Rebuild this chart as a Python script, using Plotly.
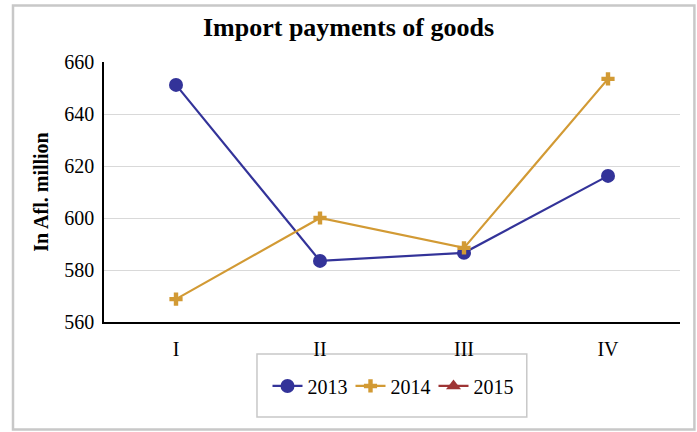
import plotly.graph_objects as go

quarters = ["I", "II", "III", "IV"]
y2013 = [651.2, 583.5, 586.6, 616.2]
y2014 = [568.8, 600.0, 588.5, 653.5]
y2015 = [None, None, None, None]

FONT = "Liberation Serif"

fig = go.Figure()
fig.add_trace(go.Scatter(
    x=quarters, y=y2013, name="2013", mode="lines+markers",
    line=dict(color="#333399", width=2.2),
    marker=dict(symbol="circle", size=14, color="#333399"),
))
fig.add_trace(go.Scatter(
    x=quarters, y=y2014, name="2014", mode="lines+markers",
    line=dict(color="#D29A34", width=2.2),
    marker=dict(symbol="cross", size=11, color="#D29A34"),
))
fig.add_trace(go.Scatter(
    x=quarters, y=y2015, name="2015", mode="lines+markers",
    line=dict(color="#9E3434", width=2.2),
    marker=dict(symbol="triangle-up", size=13, color="#9E3434"),
))

fig.update_layout(
    width=697, height=432,
    margin=dict(l=104, r=17, t=62, b=110),
    paper_bgcolor="white", plot_bgcolor="white",
    font=dict(family=FONT, size=20, color="black"),
    title=dict(text="<b>Import payments of goods</b>", x=0.5, xanchor="center",
               y=0.937, yanchor="middle", font=dict(family=FONT, size=26)),
    showlegend=True,
    legend=dict(orientation="h", x=0.5, xanchor="center", y=-0.246, yanchor="middle",
                bgcolor="rgba(0,0,0,0)", borderwidth=0, font=dict(size=20),
                itemwidth=30, tracegroupgap=0, entrywidth=38, entrywidthmode="pixels"),
    xaxis=dict(range=[-0.5, 3.5], showgrid=False, showline=True, linecolor="black",
               linewidth=1.5, ticks="", tickfont=dict(size=20), ticklabelstandoff=8,
               fixedrange=True),
    yaxis=dict(range=[560, 660], dtick=20, showgrid=True, gridcolor="#D9D9D9",
               gridwidth=1, showline=True, linecolor="black", linewidth=1.5,
               ticks="", tickfont=dict(size=20), ticklabelstandoff=4, zeroline=False,
               title=dict(text="<b>In Afl. million</b>", font=dict(size=20), standoff=10)),
)

# outer chart frame
fig.add_shape(type="rect", xref="paper", yref="paper",
              x0=-0.158, x1=1.025, y0=-0.413, y1=1.217,
              line=dict(color="#C8C8C8", width=2.5), layer="below")
# legend frame
fig.add_shape(type="rect", xref="paper", yref="paper",
              x0=0.2656, x1=0.734, y0=-0.365, y1=-0.123,
              line=dict(color="#C8C8C8", width=1.5), layer="below")

fig.write_html("out.html")
